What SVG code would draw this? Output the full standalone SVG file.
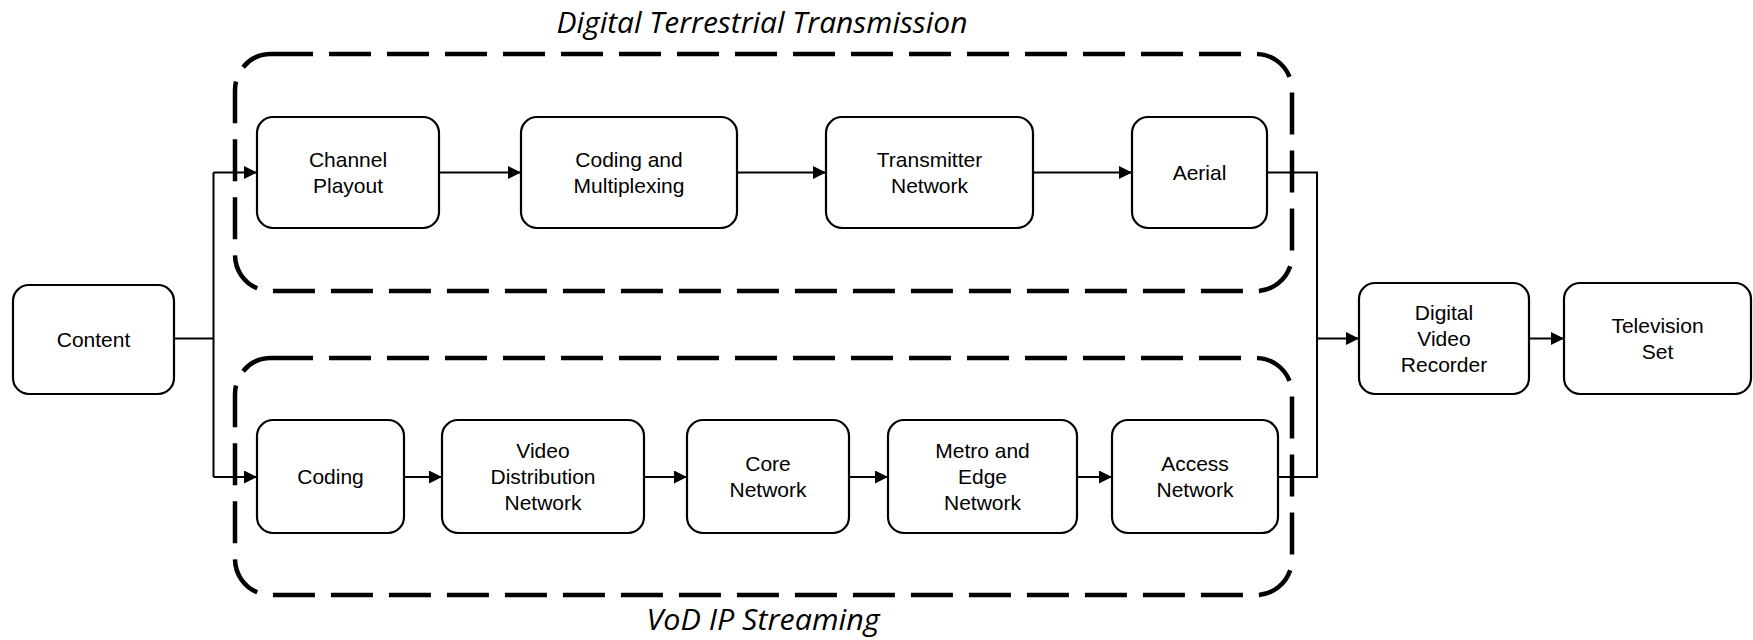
<svg xmlns="http://www.w3.org/2000/svg" width="1753" height="640" viewBox="0 0 1753 640">
<style>
.node rect{fill:#fff;stroke:#000;stroke-width:2.2}
.node text{font-family:"Liberation Sans",Arial,sans-serif;font-size:21px;fill:#000;text-anchor:middle}
.group{fill:none;stroke:#000;stroke-width:4.5;stroke-dasharray:42 16}
.title{font-family:"Open Sans","Noto Sans",sans-serif;font-style:italic;font-size:30px;fill:#000;text-anchor:middle}
.conn{fill:none;stroke:#000;stroke-width:2}
</style>
<defs>
<marker id="arr" markerUnits="userSpaceOnUse" markerWidth="13" markerHeight="13" refX="13" refY="6.5" orient="auto">
<path d="M0,0 L13,6.5 L0,13 z" fill="#000"/>
</marker>
</defs>
<rect width="1753" height="640" fill="#fff"/>
<g id="group-dtt">
<rect class="group" x="235" y="54" width="1057" height="237" rx="36" ry="36"/>
<text class="title" x="762" y="33" textLength="411" lengthAdjust="spacingAndGlyphs">Digital Terrestrial Transmission</text>
</g>
<g id="group-vod">
<rect class="group" x="235" y="358" width="1057" height="237" rx="36" ry="36"/>
<text class="title" x="763" y="630" textLength="233" lengthAdjust="spacingAndGlyphs">VoD IP Streaming</text>
</g>
<g id="connectors">
<polyline class="conn" points="174,338.5 213.5,338.5"/>
<polyline class="conn" points="213.5,172.5 213.5,477" />
<polyline class="conn" points="213.5,172.5 257,172.5" marker-end="url(#arr)"/>
<polyline class="conn" points="213.5,477 257,477" marker-end="url(#arr)"/>
<line class="conn" x1="439" y1="172.5" x2="521" y2="172.5" marker-end="url(#arr)"/>
<line class="conn" x1="737" y1="172.5" x2="826" y2="172.5" marker-end="url(#arr)"/>
<line class="conn" x1="1033" y1="172.5" x2="1132" y2="172.5" marker-end="url(#arr)"/>
<line class="conn" x1="404" y1="477" x2="442" y2="477" marker-end="url(#arr)"/>
<line class="conn" x1="644" y1="477" x2="687" y2="477" marker-end="url(#arr)"/>
<line class="conn" x1="849" y1="477" x2="888" y2="477" marker-end="url(#arr)"/>
<line class="conn" x1="1077" y1="477" x2="1112" y2="477" marker-end="url(#arr)"/>
<polyline class="conn" points="1267,172.5 1317,172.5 1317,477 1278,477"/>
<line class="conn" x1="1317" y1="338.5" x2="1359" y2="338.5" marker-end="url(#arr)"/>
<line class="conn" x1="1529" y1="338.5" x2="1564" y2="338.5" marker-end="url(#arr)"/>
</g>
<g id="content" class="node"><rect x="13" y="285" width="161" height="109" rx="16"/><text x="93.5" y="347">Content</text></g>
<g id="channel-playout" class="node"><rect x="257" y="117" width="182" height="111" rx="16"/><text x="348" y="167">Channel</text><text x="348" y="193">Playout</text></g>
<g id="coding-multiplexing" class="node"><rect x="521" y="117" width="216" height="111" rx="16"/><text x="629" y="167">Coding and</text><text x="629" y="193">Multiplexing</text></g>
<g id="transmitter-network" class="node"><rect x="826" y="117" width="207" height="111" rx="16"/><text x="929.5" y="167">Transmitter</text><text x="929.5" y="193">Network</text></g>
<g id="aerial" class="node"><rect x="1132" y="117" width="135" height="111" rx="16"/><text x="1199.5" y="180">Aerial</text></g>
<g id="coding" class="node"><rect x="257" y="420" width="147" height="113" rx="16"/><text x="330.5" y="484">Coding</text></g>
<g id="video-distribution-network" class="node"><rect x="442" y="420" width="202" height="113" rx="16"/><text x="543" y="458">Video</text><text x="543" y="484">Distribution</text><text x="543" y="510">Network</text></g>
<g id="core-network" class="node"><rect x="687" y="420" width="162" height="113" rx="16"/><text x="768" y="471">Core</text><text x="768" y="497">Network</text></g>
<g id="metro-edge-network" class="node"><rect x="888" y="420" width="189" height="113" rx="16"/><text x="982.5" y="458">Metro and</text><text x="982.5" y="484">Edge</text><text x="982.5" y="510">Network</text></g>
<g id="access-network" class="node"><rect x="1112" y="420" width="166" height="113" rx="16"/><text x="1195" y="471">Access</text><text x="1195" y="497">Network</text></g>
<g id="dvr" class="node"><rect x="1359" y="283" width="170" height="111" rx="16"/><text x="1444" y="320">Digital</text><text x="1444" y="346">Video</text><text x="1444" y="372">Recorder</text></g>
<g id="tv" class="node"><rect x="1564" y="283" width="187" height="111" rx="16"/><text x="1657.5" y="333">Television</text><text x="1657.5" y="359">Set</text></g>
</svg>
